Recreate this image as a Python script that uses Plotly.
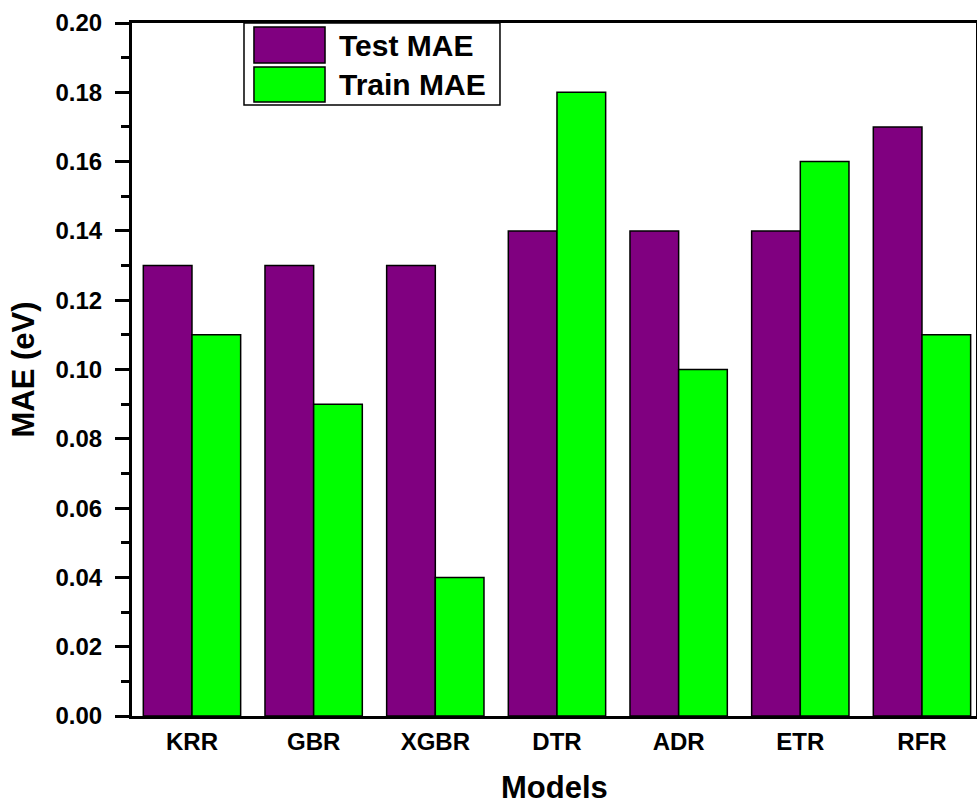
import plotly.graph_objects as go

models = ["KRR", "GBR", "XGBR", "DTR", "ADR", "ETR", "RFR"]
test_mae = [0.13, 0.13, 0.13, 0.14, 0.14, 0.14, 0.17]
train_mae = [0.11, 0.09, 0.04, 0.18, 0.10, 0.16, 0.11]
series_names = ["Test MAE", "Train MAE"]
series_colors = ["#800080", "#00FF00"]
y_ticks = [0.00, 0.02, 0.04, 0.06, 0.08, 0.10, 0.12, 0.14, 0.16, 0.18, 0.20]
x_title = "Models"

FONT = "Liberation Sans, Arial, sans-serif"

fig = go.Figure()
for name, vals, col in zip(series_names, [test_mae, train_mae], series_colors):
    fig.add_trace(go.Bar(
        x=models, y=vals, name=name,
        marker=dict(color=col, line=dict(color="black", width=1.5)),
        showlegend=False,
    ))

# custom legend (large swatches like the original)
leg_x0, leg_x1 = 0.1327, 0.436
leg_y0, leg_y1 = 0.8817, 1.0
shapes = [dict(type="rect", xref="paper", yref="paper", x0=leg_x0, x1=leg_x1,
               y0=leg_y0, y1=leg_y1, line=dict(color="black", width=1.5),
               fillcolor="white", layer="above")]
sw = [(0.9942, 0.9423), (0.9365, 0.886)]
annotations = []
for (ya, yb), name, col in zip(sw, series_names, series_colors):
    shapes.append(dict(type="rect", xref="paper", yref="paper", x0=0.1445, x1=0.2287,
                       y0=yb, y1=ya, line=dict(color="black", width=1.5),
                       fillcolor=col, layer="above"))
    annotations.append(dict(xref="paper", yref="paper", x=0.2429, y=(ya + yb) / 2,
                            text=name, showarrow=False, xanchor="left", yanchor="middle",
                            font=dict(family=FONT, size=30, color="black", weight="bold")))

# x-axis title placed as annotation
annotations.append(dict(xref="paper", yref="paper", x=0.5, y=-0.103,
                        text=x_title, showarrow=False, xanchor="center", yanchor="middle",
                        font=dict(family=FONT, size=31, color="black", weight="bold")))

fig.update_layout(
    width=977, height=805,
    margin=dict(l=132, r=1, t=23, b=89),
    paper_bgcolor="white", plot_bgcolor="white",
    barmode="group", bargap=0.2, bargroupgap=0.0,
    shapes=shapes, annotations=annotations,
    font=dict(family=FONT, color="black"),
)
fig.update_xaxes(
    range=[-0.493, 6.444], automargin=False,
    showline=True, linecolor="black", linewidth=3, mirror=True,
    ticks="", showgrid=False,
    tickfont=dict(family=FONT, size=24, color="black", weight="bold"),
    ticklabelstandoff=2,
)
fig.update_yaxes(
    range=[0, 0.20], automargin=False,
    tickvals=y_ticks, tickformat=".2f",
    showline=True, linecolor="black", linewidth=3, mirror=True,
    ticks="outside", ticklen=14, tickwidth=2.5, tickcolor="black",
    minor=dict(dtick=0.01, ticks="outside", ticklen=8, tickwidth=2.5, tickcolor="black", showgrid=False),
    showgrid=False, zeroline=False,
    tickfont=dict(family=FONT, size=24, color="black", weight="bold"),
    ticklabelstandoff=8,
    title=dict(text="MAE (eV)", standoff=12,
               font=dict(family=FONT, size=31, color="black", weight="bold")),
)

fig.write_html("out.html", config={"displayModeBar": False},
               post_script="document.body.style.margin='0';document.body.style.overflow='hidden';")
